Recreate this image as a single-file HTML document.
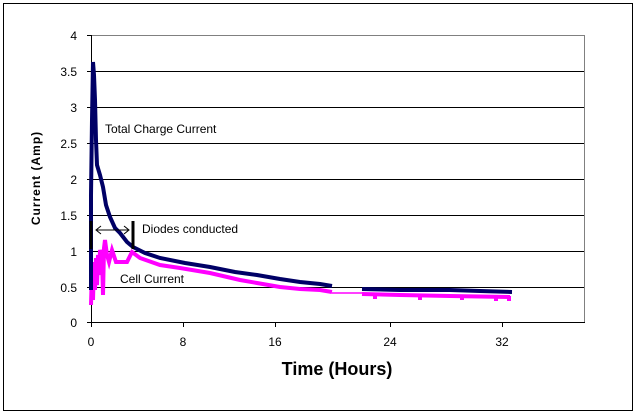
<!DOCTYPE html>
<html><head><style>body{margin:0;background:#fff}svg{display:block}</style></head><body>
<svg width="638" height="417" xmlns="http://www.w3.org/2000/svg" font-family="Liberation Sans, sans-serif">
<rect x="0" y="0" width="638" height="417" fill="#fff"/>
<rect x="3.5" y="3.5" width="629" height="407" fill="none" stroke="#000" stroke-width="1"/>
<g stroke="#000" stroke-width="1">
<line x1="91" y1="35.5" x2="585" y2="35.5"/>
<line x1="91" y1="71.5" x2="585" y2="71.5"/>
<line x1="91" y1="107.5" x2="585" y2="107.5"/>
<line x1="91" y1="143.5" x2="585" y2="143.5"/>
<line x1="91" y1="179.5" x2="585" y2="179.5"/>
<line x1="91" y1="215.5" x2="585" y2="215.5"/>
<line x1="91" y1="251.5" x2="585" y2="251.5"/>
<line x1="91" y1="287.5" x2="585" y2="287.5"/>
</g>
<rect x="91.5" y="35.5" width="493" height="287" fill="none" stroke="#808080"/>
<line x1="91.5" y1="35" x2="91.5" y2="323" stroke="#000"/>
<line x1="91" y1="322.5" x2="585" y2="322.5" stroke="#000"/>
<g stroke="#000"><line x1="87" y1="35.5" x2="91" y2="35.5"/><line x1="87" y1="71.5" x2="91" y2="71.5"/><line x1="87" y1="107.5" x2="91" y2="107.5"/><line x1="87" y1="143.5" x2="91" y2="143.5"/><line x1="87" y1="179.5" x2="91" y2="179.5"/><line x1="87" y1="215.5" x2="91" y2="215.5"/><line x1="87" y1="251.5" x2="91" y2="251.5"/><line x1="87" y1="287.5" x2="91" y2="287.5"/><line x1="87" y1="322.5" x2="91" y2="322.5"/>
<line x1="91.5" y1="322" x2="91.5" y2="327"/><line x1="183.5" y1="322" x2="183.5" y2="327"/><line x1="275.5" y1="322" x2="275.5" y2="327"/><line x1="390.5" y1="322" x2="390.5" y2="327"/><line x1="502.5" y1="322" x2="502.5" y2="327"/></g>
<g font-size="12" text-anchor="end" fill="#000">
<text x="77" y="40">4</text><text x="77" y="76">3.5</text><text x="77" y="112">3</text><text x="77" y="148">2.5</text><text x="77" y="184">2</text><text x="77" y="220">1.5</text><text x="77" y="256">1</text><text x="77" y="292">0.5</text><text x="77" y="327">0</text></g>
<g font-size="12" text-anchor="middle"><text x="91" y="346">0</text><text x="183" y="346">8</text><text x="275" y="346">16</text><text x="390" y="346">24</text><text x="502" y="346">32</text></g>
<text x="337" y="375" font-size="18" font-weight="bold" text-anchor="middle">Time  (Hours)</text>
<text transform="translate(40,178) rotate(-90)" font-size="12" font-weight="bold" text-anchor="middle" letter-spacing="1">Current (Amp)</text>
<polyline fill="none" stroke="#f0f" stroke-width="4" points="91,305 92,270 93,300 94,262 95,290 96,258 97,285 98,255 99,275 100,250 102,258 103,295 104,248 105,240 107,255 109,262 112,250 116,262 121,262 127,262 132,252 140,258 160,265 180,268 210,273 240,280 257,283 280,287 300,289 320,290 332,292"/>
<polyline fill="none" stroke="#f0f" stroke-width="1.5" points="332,293 362,293"/>
<polyline fill="none" stroke="#f0f" stroke-width="4" points="362,294 400,295 450,296 510,297"/>
<g fill="none" stroke="#f0f" stroke-width="4"><line x1="375" y1="296" x2="375" y2="299"/><line x1="420" y1="296" x2="420" y2="300"/><line x1="462" y1="296" x2="462" y2="300"/><line x1="496" y1="296" x2="496" y2="301"/><line x1="509" y1="296" x2="509" y2="301"/></g>
<polyline fill="none" stroke="#000066" stroke-width="4" points="91,290 91,195 92,120 93,62 94,75 95,100 96,140 97,165 100,175 103,187 106,205 110,217 115,228 120,233 127,242 133,247 145,253 160,258 185,263 210,267 235,272 257,275 280,279 300,282 320,284 332,286"/>
<polyline fill="none" stroke="#000066" stroke-width="4" points="362,289 400,290 450,290 480,291 512,292"/>
<g stroke="#000"><line x1="91" y1="221" x2="91" y2="249" stroke-width="3"/><line x1="133" y1="221" x2="133" y2="249" stroke-width="3"/>
<line x1="97" y1="230" x2="128" y2="230"/><polyline fill="none" points="101,226 96,230 101,234"/><polyline fill="none" points="124,226 129,230 124,234"/></g>
<g font-size="12"><text x="105" y="133">Total Charge Current</text><text x="142" y="233">Diodes conducted</text><text x="120" y="283">Cell Current</text></g>
</svg>
</body></html>
